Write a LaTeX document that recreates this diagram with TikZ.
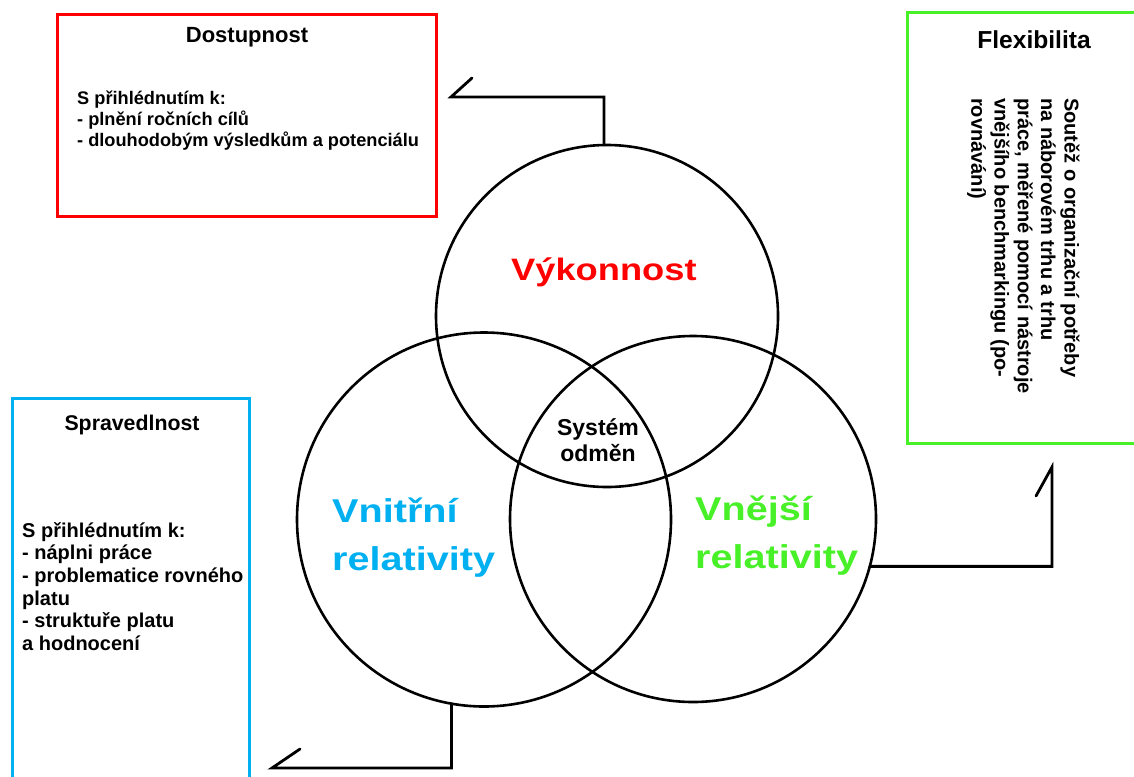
\documentclass[tikz,border=0pt]{standalone}
\usepackage{fontspec}
\setmainfont{Liberation Sans}
\newfontfamily\widesans[FakeStretch=1.2]{Liberation Sans}
\newfontfamily\headsans[FakeStretch=1.17]{Liberation Sans}
\definecolor{perfred}{RGB}{255,0,0}
\definecolor{innerblue}{RGB}{0,176,240}
\definecolor{outerlime}{RGB}{72,240,40}

\tikzset{
  panel/.style={draw, line width=3pt, rectangle, inner sep=0pt, outer sep=0pt},
  ring/.style={circle, draw=black, line width=2.6pt, inner sep=0pt, outer sep=0pt},
  link/.style={draw=black, line width=2.8pt, line join=miter, line cap=round},
  paneltitle/.style={anchor=base, inner sep=0pt, font=\fontsize{21.3}{24}\selectfont\bfseries},
  panelbody/.style={anchor=north west, inner sep=0pt, align=left},
  biglabel/.style={inner sep=0pt, align=left, font=\widesans\fontsize{33}{48}\selectfont\bfseries},
}

\begin{document}
\begin{tikzpicture}[x=1pt,y=-1pt]
\useasboundingbox (0,0) rectangle (1134,776);
\clip (0,0) rectangle (1134,776);
\fill[white] (0,0) rectangle (1134,776);

% the three overlapping circles
\node[ring, minimum size=342pt] (vyk) at (607,316) {};
\node[ring, minimum size=374pt] (vnitr) at (484,519.5) {};
\node[ring, minimum size=366pt] (vnej) at (693,519) {};

% side panels
\node[panel, draw=perfred, minimum width=379pt, minimum height=201pt] (dost) at (246.5,115.5) {};
\node[panel, draw=outerlime, minimum width=240pt, minimum height=430pt] (flex) at (1027,228) {};
\node[panel, draw=innerblue, minimum width=237pt, minimum height=400pt] (sprav) at (130.5,598) {};

% panel texts
\node[paneltitle, font=\fontsize{22}{25}\selectfont\bfseries] (dosttitle) at (247,42.3) {Dostupnost};
\node[panelbody, font=\fontsize{18.2}{21}\selectfont\bfseries] (dostbody) at (77,89.3)
  {\strut S přihlédnutím k:\\- plnění ročních cílů\\- dlouhodobým výsledkům a potenciálu};

\node[paneltitle, font=\fontsize{24.6}{27}\selectfont\bfseries] (flextitle) at (1034,48.3) {Flexibilita};
\node[panelbody, rotate=-90, font=\fontsize{20}{23.3}\selectfont\bfseries] (flexbody) at (1081,98)
  {\strut Soutěž o organizační potřeby\\na náborovém trhu a trhu\\práce, měřené pomocí nástroje\\vnějšího benchmarkingu (po-\\rovnávání)};

\node[paneltitle] (spravtitle) at (132,430) {Spravedlnost};
\node[panelbody, font=\fontsize{20}{22.6}\selectfont\bfseries] (spravbody) at (22,521.2)
  {\strut S přihlédnutím k:\\- náplni práce\\- problematice rovného\\platu\\- struktuře platu\\a hodnocení};

% circle labels
\node[inner sep=0pt, anchor=base west, text=perfred, font=\headsans\fontsize{31}{40}\selectfont\bfseries] (vyklabel) at (511,280) {Výkonnost};
\node[biglabel, anchor=north west, text=innerblue] (vnitrlabel) at (332,488.4) {\strut Vnitřní\\relativity};
\node[biglabel, anchor=north west, text=outerlime] (vnejlabel) at (695,486.4) {\strut Vnější\\relativity};
\node[inner sep=0pt, anchor=north, align=center, font=\fontsize{23}{26.7}\selectfont\bfseries] (core) at (598,416.3)
  {\strut Systém\\odměn};

% connectors with half arrowheads
\coordinate (d1) at (451,97);
\coordinate (d2) at (1052,467);
\coordinate (d3) at (272,768);
\draw[link] (vyk.91) |- (d1) -- ++(21,-19);
\draw[link] (vnej.345) -| (d2) -- ++(-16,29);
\draw[link] (vnitr.260) |- (d3) -- ++(28,-19);
\end{tikzpicture}
\end{document}
